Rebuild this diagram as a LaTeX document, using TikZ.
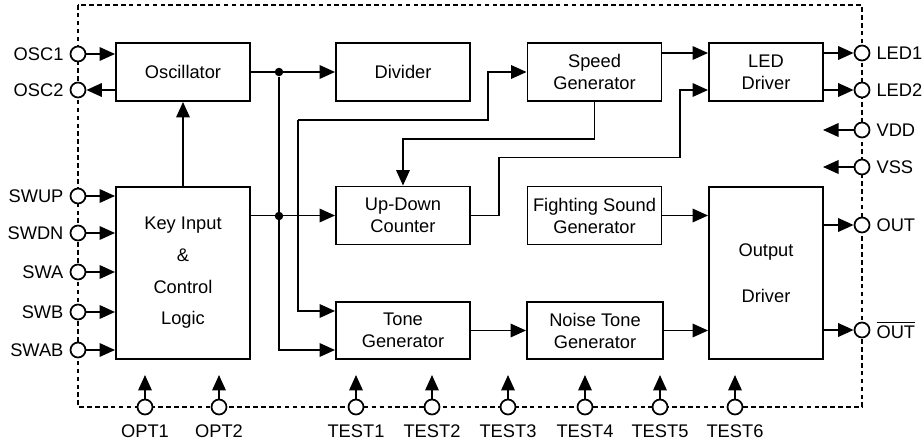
\documentclass[tikz,border=0pt]{standalone}
\usepackage{fontspec}
\setmainfont{Liberation Sans}
\usetikzlibrary{arrows.meta}

\tikzset{
  blk/.style={draw, line width=1.1pt, minimum width=2.68cm, minimum height=1.16cm, align=center, inner sep=1pt},
  pin/.style={draw, circle, fill=white, line width=1pt, minimum size=0.3cm, inner sep=0pt},
  arr/.style={line width=1.1pt, -{Triangle[length=3.1mm,width=2.7mm]}},
  dot/.style={circle, fill, inner sep=0pt, minimum size=0.17cm},
  frame/.style={line width=0.8pt, dash pattern=on 2.6pt off 1.9pt}
}

\begin{document}
\begin{tikzpicture}[x=0.02cm, y=-0.02cm, font=\fontsize{10.4pt}{12.5pt}\selectfont]
        \useasboundingbox (0,0) rectangle (924,446);

        % Chip frame
        \draw[frame] (78,5) rectangle (862,407);

        % Blocks
        \node[blk] (osc) at (183,72) {Oscillator};
        \node[blk] (div) at (403,72) {Divider};
        \node[blk] (spd) at (594.5,72) {Speed\\Generator};
        \node[blk, minimum width=2.28cm] (led) at (766,72) {LED\\Driver};
        \node[blk, minimum height=3.44cm] (key) at (183,273) {Key Input\\[5.5pt]\&\\[5.5pt]Control\\[5.5pt]Logic};
        \node[blk] (udc) at (403,215.5) {Up-Down\\Counter};
        \node[blk] (fsg) at (594.5,215.5) {Fighting Sound\\Generator};
        \node[blk, minimum width=2.28cm, minimum height=3.44cm] (drv) at (766,273) {Output\\[14pt]Driver};
        \node[blk, minimum height=1.14cm] (tone) at (403,330.5) {Tone\\Generator};
        \node[blk, minimum width=2.72cm, minimum height=1.14cm] (noise) at (595,330.5) {Noise Tone\\Generator};

        % Pins
        \foreach \n/\y/\t in {osc1/54/OSC1, osc2/90/OSC2, swup/196/SWUP, swdn/233/SWDN, swa/272/SWA, swb/312/SWB, swab/350/SWAB}
          \node[pin, label={[label distance=0pt]left:\t}] (\n) at (78,\y) {};
        \foreach \n/\y/\t in {led1/53/LED1, led2/90/LED2, vdd/130/VDD, vss/167/VSS, out/225/OUT, outb/330/{$\overline{\hbox{OUT}}$}}
          \node[pin, label={[label distance=0pt]right:\t}] (\n) at (862,\y) {};
        \foreach \n/\x/\t in {opt1/145/OPT1, opt2/219/OPT2, t1/356/TEST1, t2/432/TEST2, t3/508/TEST3, t4/585/TEST4, t5/660/TEST5, t6/735/TEST6}{
          \node[pin, label={[label distance=2pt]below:\t}] (\n) at (\x,407) {};
          \coordinate (\n-t) at (\x,375);
          \draw[arr] (\n) -- (\n-t);
        }
        \coordinate (vdd-t) at (823,130);
        \coordinate (vss-t) at (823,167);
        \draw[arr] (vdd) -- (vdd-t);
        \draw[arr] (vss) -- (vss-t);

        % Inputs and outputs
        \draw[arr] (osc1) -- (osc1 -| osc.west);
        \draw[arr] (osc2 -| osc.west) -- (osc2);
        \foreach \n in {swup, swdn, swa, swb, swab}
          \draw[arr] (\n) -- (\n -| key.west);
        \draw[arr] (led.east |- led1) -- (led1);
        \draw[arr] (led.east |- led2) -- (led2);
        \draw[arr] (drv.east |- out) -- (out);
        \draw[arr] (drv.east |- outb) -- (outb);

        % Junctions
        \node[dot] (j1) at (279,72) {};
        \node[dot] (j2) at (279,216) {};
        \coordinate (bus) at (298,120);

        % Internal connections
        \draw[arr] (key.north) -- (osc.south);
        \draw[arr] (osc.east) -- (div.west);
        \draw[arr] (j1) |- ([yshift=-0.39cm]tone.west);
        \draw[arr] (key.east |- udc) -- (udc.west);
        \draw[arr] (bus) -| ([xshift=-0.78cm]spd.west) -- (spd.west);
        \draw[arr] (bus) |- ([yshift=0.39cm]tone.west);
        \draw[arr] (spd.south) -- ++(0,37) -| (udc.north);
        \draw[arr] (udc.east) -| ++(28,-58) -| ([xshift=-0.56cm]led.west |- led2) -- (led.west |- led2);
        \draw[arr] (spd.east |- led1) -- (led.west |- led1);
        \draw[arr] (fsg.east) -- (fsg.east -| drv.west);
        \draw[arr] (tone.east) -- (noise.west);
        \draw[arr] (noise.east) -- (noise.east -| drv.west);
\end{tikzpicture}
\end{document}
